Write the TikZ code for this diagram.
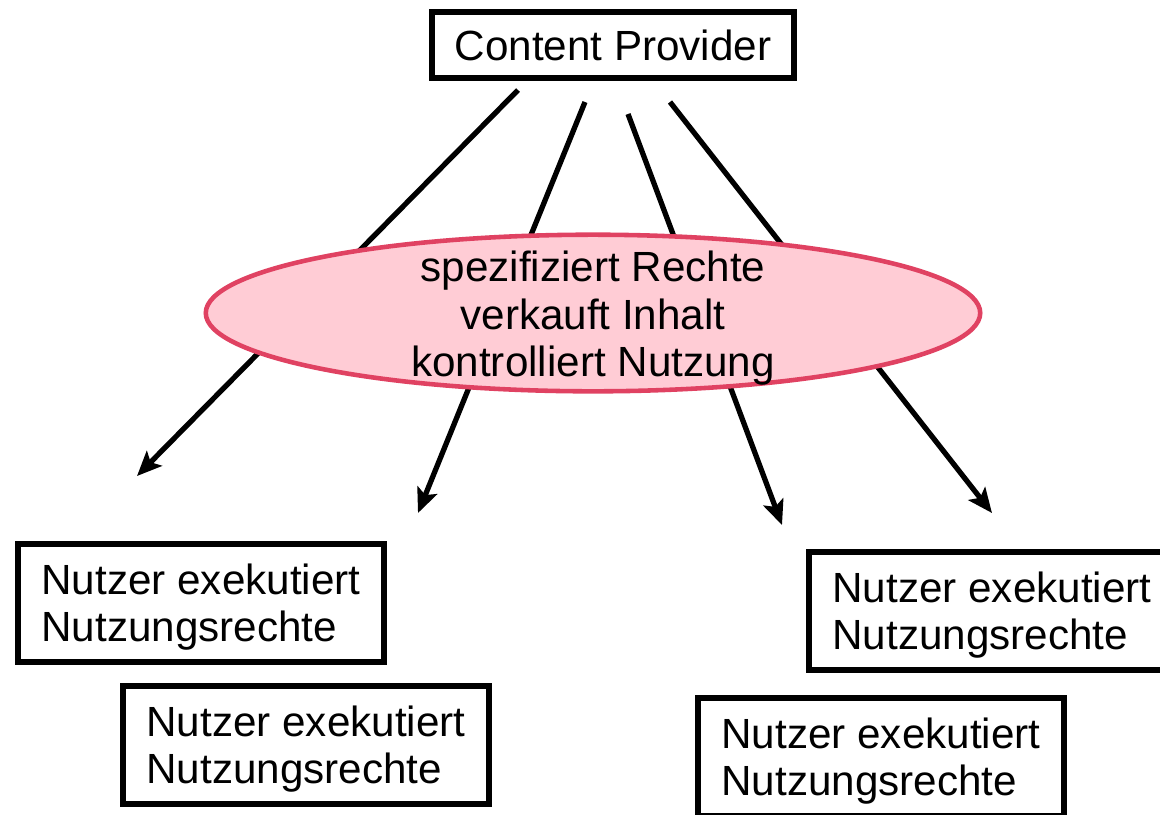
\documentclass[tikz,border=0pt]{standalone}
\usepackage{fontspec}
\setmainfont{Liberation Sans}
\usetikzlibrary{shapes.geometric,arrows.meta}

\definecolor{rosefill}{HTML}{FFCCD5}
\definecolor{roseline}{HTML}{E04262}

\begin{document}
\begin{tikzpicture}[x=0.01cm, y=-0.01cm,
  every node/.style={font=\fontsize{12}{13.4}\selectfont},
  box/.style={draw, line width=1.6pt, minimum width=3.66cm, minimum height=1.18cm, align=left, inner sep=0pt,
    text height=24.4pt},
  task/.style={ellipse, draw=roseline, fill=rosefill, line width=1.3pt, minimum width=7.74cm, align=center,
    inner xsep=0pt, inner ysep=-4.7pt, text height=38.4pt},
  pfeil/.style={line width=1.5pt, -{Stealth[length=7pt, width=6pt, inset=1.5pt]}}]
\useasboundingbox (0,0) rectangle (1160,814);

\node[draw, line width=1.6pt, minimum width=3.62cm, minimum height=0.66cm, inner sep=0pt] (cp) at (613,45) {Content Provider};

\coordinate (a1) at (518,90);
\coordinate (a2) at (585,102);
\coordinate (a3) at (628,114);
\coordinate (a4) at (670,102);
\coordinate (b1) at (137,476);
\coordinate (b2) at (418,513);
\coordinate (b3) at (782,525);
\coordinate (b4) at (992,513);
\foreach \i in {1,...,4}
  \draw[pfeil] (a\i) -- (b\i);

\node[task] (rolle) at (593,313) {spezifiziert Rechte\\verkauft Inhalt\\kontrolliert Nutzung};

\node[box] (n1) at (201,603) {Nutzer exekutiert\\Nutzungsrechte};
\node[box] (n2) at (306,745) {Nutzer exekutiert\\Nutzungsrechte};
\node[box] (n3) at (992,611) {Nutzer exekutiert\\Nutzungsrechte};
\node[box] (n4) at (881,757) {Nutzer exekutiert\\Nutzungsrechte};
\end{tikzpicture}
\end{document}
